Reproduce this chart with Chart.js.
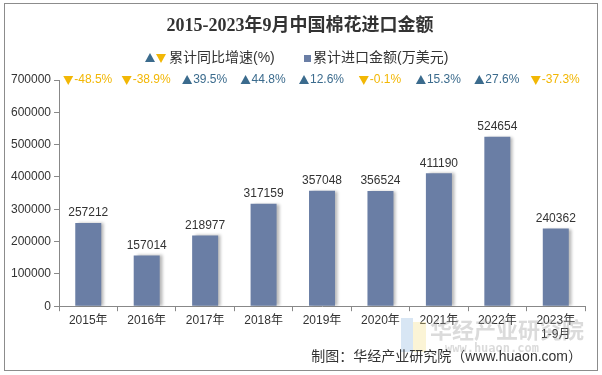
<!DOCTYPE html>
<html>
<head>
<meta charset="utf-8">
<script src="https://cdn.jsdelivr.net/npm/chart.js@4"></script>
<style>
  body { margin: 0; background: #fff; }
  #frame { position: absolute; left: 4px; top: 3px; width: 592px; height: 366px; border: 1px solid #8c8c8c; }
  #myChart { position: absolute; left: 0; top: 0; }
</style>
</head>
<body>
<div id="frame"></div>
<canvas id="myChart" width="602" height="375"></canvas>
<script>
const years = ["2015年", "2016年", "2017年", "2018年", "2019年", "2020年", "2021年", "2022年", ["2023年", "1-9月"]];
const importValues = [257212, 157014, 218977, 317159, 357048, 356524, 411190, 524654, 240362];
const growthRates = [-48.5, -38.9, 39.5, 44.8, 12.6, -0.1, 15.3, 27.6, -37.3];
const yTicks = [0, 100000, 200000, 300000, 400000, 500000, 600000, 700000];

const barColor = "#6a7ea5";
const upColor = "#3b6b8d";
const downColor = "#f2b705";
const cjk = "'Liberation Sans', 'Noto Sans CJK SC', sans-serif";

// soft shadow on the right of each bar
const barShadow = {
  id: "barShadow",
  beforeDatasetsDraw(chart) {
    const c = chart.ctx;
    c.save();
    c.shadowColor = "rgba(0,0,0,0.28)";
    c.shadowBlur = 3;
    c.shadowOffsetX = 3;
    c.shadowOffsetY = 0;
  },
  afterDatasetsDraw(chart) {
    chart.ctx.restore();
  }
};

const extras = {
  id: "extras",
  afterDraw(chart) {
    const c = chart.ctx;
    const x = chart.scales.x, y = chart.scales.y;
    c.save();
    // title
    c.fillStyle = "#333";
    c.font = "bold 18px 'Liberation Serif', 'Noto Sans CJK SC', serif";
    c.textAlign = "center";
    c.textBaseline = "middle";
    c.fillText("2015-2023年9月中国棉花进口金额", 300, 26);
    // legend
    c.font = "14px " + cjk;
    c.textAlign = "left";
    c.fillStyle = upColor;
    tri(c, 150, 58, true, 10);
    c.fillStyle = downColor;
    tri(c, 161, 58, false, 10);
    c.fillStyle = "#333";
    c.fillText("累计同比增速(%)", 169, 58);
    c.fillStyle = barColor;
    c.fillRect(304, 55, 7, 7);
    c.fillStyle = "#333";
    c.fillText("累计进口金额(万美元)", 313, 58);
    // value labels
    c.font = "12px " + cjk;
    c.textAlign = "center";
    c.textBaseline = "bottom";
    importValues.forEach((v, i) => {
      c.fillText(String(v), x.getPixelForValue(i), y.getPixelForValue(v) - 4);
    });
    // growth labels
    c.textBaseline = "middle";
    const ty = y.getPixelForValue(700000);
    growthRates.forEach((g, i) => {
      const up = g >= 0;
      const txt = g.toFixed(1) + "%";
      c.font = "12px " + cjk;
      const w = c.measureText(txt).width;
      const cx = x.getPixelForValue(i);
      const left = cx - (w + 10) / 2;
      c.fillStyle = up ? upColor : downColor;
      tri(c, left + 4, ty, up, 10);
      c.textAlign = "left";
      c.fillText(txt, left + 10, ty);
    });
    // watermark
    c.globalAlpha = 0.35;
    c.fillStyle = "#8fb6e0";
    c.fillRect(401, 318, 12, 34);
    c.fillStyle = "#f3e08a";
    c.fillRect(413, 322, 13, 30);
    c.fillStyle = "#999";
    c.font = "bold 22px 'Noto Sans CJK SC', sans-serif";
    c.textAlign = "left";
    c.fillText("华经产业研究院", 430, 330);
    c.font = "bold 12px 'DejaVu Sans Mono', monospace";
    c.fillText("www.huaon.com", 445, 349);
    c.globalAlpha = 1;
    // source
    c.fillStyle = "#333";
    c.font = "14px " + cjk;
    c.textAlign = "right";
    c.fillText("制图：华经产业研究院（www.huaon.com）", 582, 357);
    c.restore();
  }
};

function tri(c, cx, cy, up, s) {
  c.beginPath();
  if (up) {
    c.moveTo(cx - s / 2, cy + s / 2 - 1);
    c.lineTo(cx + s / 2, cy + s / 2 - 1);
    c.lineTo(cx, cy - s / 2);
  } else {
    c.moveTo(cx - s / 2, cy - s / 2 + 1);
    c.lineTo(cx + s / 2, cy - s / 2 + 1);
    c.lineTo(cx, cy + s / 2);
  }
  c.closePath();
  c.fill();
}

new Chart(document.getElementById("myChart"), {
  type: "bar",
  data: {
    labels: years,
    datasets: [{
      label: "累计进口金额(万美元)",
      data: importValues,
      backgroundColor: barColor,
      barPercentage: 0.445,
      categoryPercentage: 1,
    }],
  },
  options: {
    responsive: false,
    animation: false,
    devicePixelRatio: 1,
    layout: { padding: { top: 80, right: 17, bottom: 31, left: 8 } },
    plugins: { legend: { display: false }, tooltip: { enabled: false } },
    scales: {
      x: {
        grid: { display: true, drawOnChartArea: false, tickLength: 5, color: "#888" },
        border: { color: "#888" },
        ticks: { color: "#333", font: { size: 12, family: cjk }, maxRotation: 0, autoSkip: false, padding: 2 },
      },
      y: {
        min: 0,
        max: 700000,
        afterBuildTicks(axis) { axis.ticks = yTicks.map(v => ({ value: v })); },
        grid: { display: true, drawOnChartArea: false, tickLength: 5, color: "#888" },
        border: { color: "#888" },
        ticks: { color: "#333", font: { size: 12, family: cjk }, padding: 3, callback: v => String(v) },
      },
    },
  },
  plugins: [barShadow, extras],
});
</script>
</body>
</html>
